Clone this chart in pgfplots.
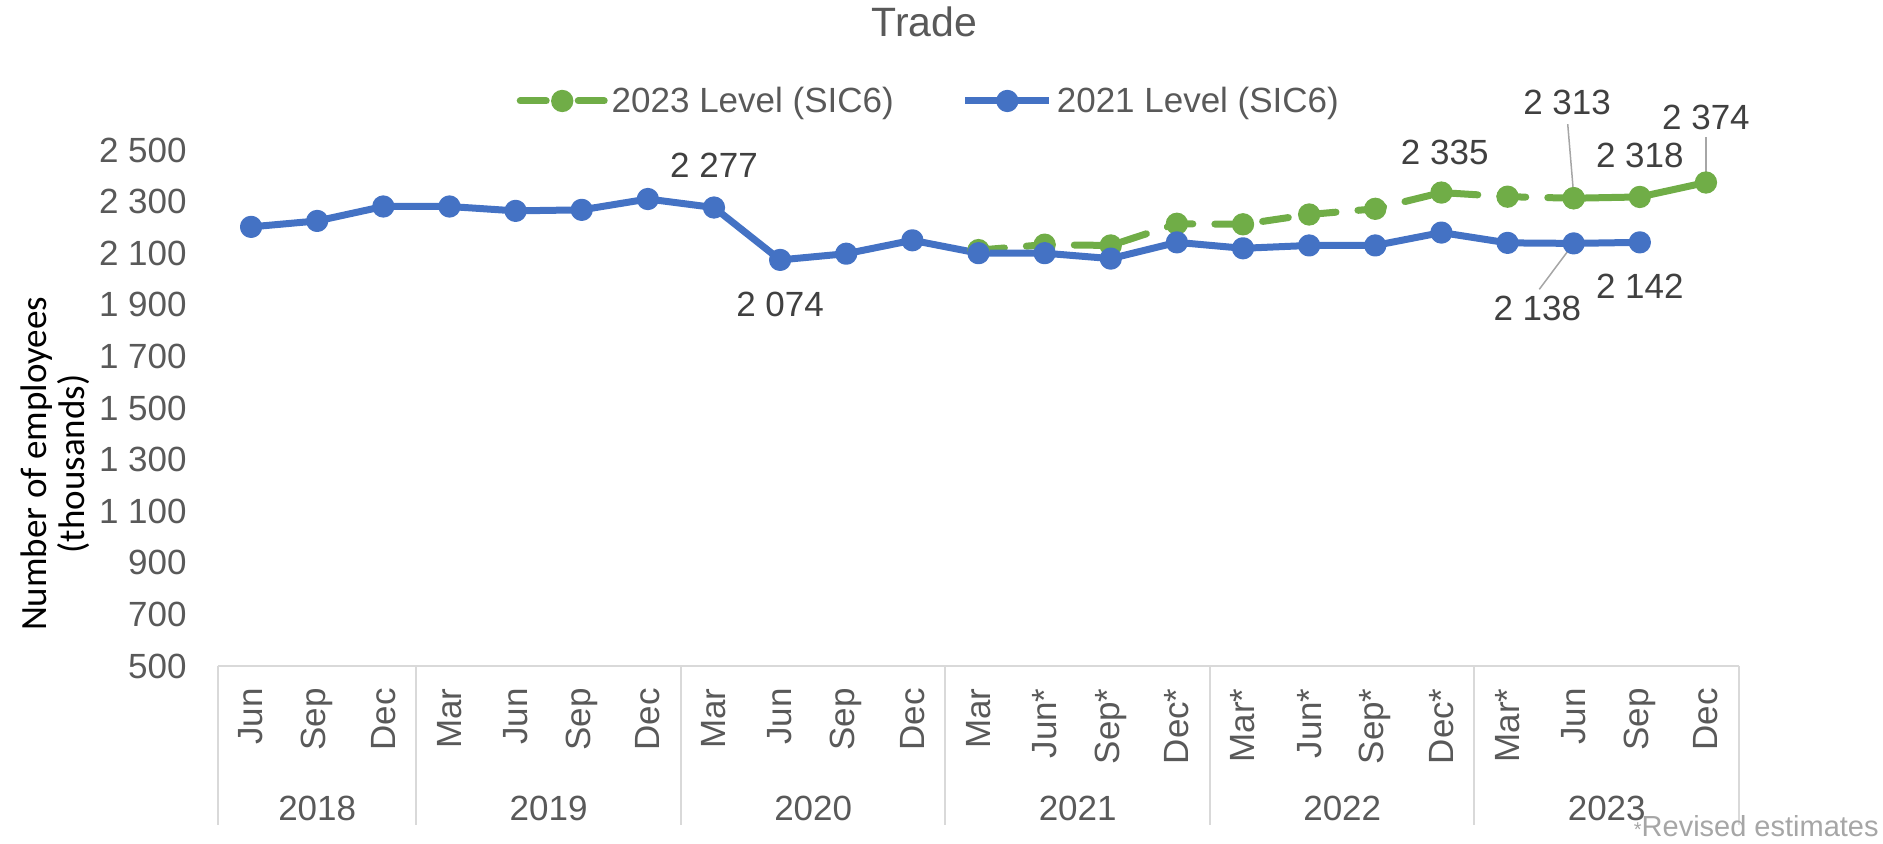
\documentclass[border=0pt]{standalone}
\usepackage{fontspec}
\setmainfont{Liberation Sans}
\newfontfamily\calib{Carlito}
\usepackage{pgfplots}
\pgfplotsset{compat=1.18}
\definecolor{tickgray}{HTML}{595959}
\definecolor{labgray}{HTML}{404040}
\definecolor{axgray}{HTML}{D9D9D9}
\definecolor{notegray}{HTML}{A6A6A6}
\definecolor{blueline}{HTML}{4472C4}
\definecolor{greenline}{HTML}{70AD47}
\newcommand{\fs}{\fontsize{17.5}{21}\selectfont}
\pgfplotsset{greenleg/.style={legend image code/.code={\draw[mark repeat=2,mark phase=2,##1, dash pattern=on 13pt off 16pt] plot coordinates {(0pt,0pt) (21pt,0pt) (42pt,0pt)};}}}
\begin{document}
\begin{tikzpicture}
\begin{axis}[
  at={(0pt,0pt)}, anchor=south west,
  scale only axis, width=760.5pt, height=258pt,
  xmin=-0.5, xmax=22.5, ymin=500, ymax=2500,
  clip=false,
  axis line style={draw=none},
  tick style={draw=none},
  major tick length=0pt,
  xtick={0,...,22},
  xticklabels={Jun,Sep,Dec,Mar,Jun,Sep,Dec,Mar,Jun,Sep,Dec,Mar,Jun*,Sep*,Dec*,Mar*,Jun*,Sep*,Dec*,Mar*,Jun,Sep,Dec},
  xticklabel style={rotate=90, anchor=east, inner sep=0pt, font=\fs, text=tickgray},
  xticklabel shift=11pt,
  ytick={500,700,...,2500},
  yticklabels={500,700,900,1 100,1 300,1 500,1 700,1 900,2 100,2 300,2 500},
  yticklabel style={inner sep=0pt, font=\fs, text=tickgray},
  yticklabel shift=15.5pt,
  legend style={at={(0.468,1.095)}, anchor=center, draw=none, fill=none,
    font=\fs, text=tickgray, legend columns=2,
    /tikz/every even column/.append style={column sep=32pt}},
  legend image code/.code={\draw[mark repeat=2,mark phase=2,#1] plot coordinates {(0pt,0pt) (21pt,0pt) (42pt,0pt)};},
]
% 2023 Level (SIC6), dashed part
\addplot[greenline, line width=3.5pt, line cap=round, dash pattern=on 13pt off 11pt,
  mark=*, mark size=3.8pt, mark options={solid, fill=greenline, draw=greenline}, greenleg]
  coordinates {(11,2112) (12,2133) (13,2130) (14,2214) (15,2212) (16,2250) (17,2272) (18,2335) (19,2319) (20,2313)};
\addlegendentry{2023 Level (SIC6)}
% 2023 Level (SIC6), solid part
\addplot[greenline, line width=3.5pt, line cap=round,
  mark=*, mark size=3.8pt, mark options={solid, fill=greenline, draw=greenline}, forget plot]
  coordinates {(20,2313) (21,2318) (22,2374)};
% 2021 Level (SIC6)
\addplot[blueline, line width=3.5pt, line join=round,
  mark=*, mark size=3.8pt, mark options={solid, fill=blueline, draw=blueline}]
  coordinates {(0,2202) (1,2225) (2,2281) (3,2281) (4,2264) (5,2268) (6,2310) (7,2277) (8,2074) (9,2098) (10,2150) (11,2100) (12,2100) (13,2079) (14,2142) (15,2119) (16,2130) (17,2130) (18,2180) (19,2140) (20,2138) (21,2142)};
\addlegendentry{2021 Level (SIC6)}

% category axis line and separators
\draw[axgray, line width=1pt] (axis cs:-0.5,500) -- (axis cs:22.5,500);
\draw[axgray, line width=1pt] (axis cs:-0.5,500) -- ([yshift=-79.5pt]axis cs:-0.5,500);
\draw[axgray, line width=1pt] (axis cs:2.5,500) -- ([yshift=-79.5pt]axis cs:2.5,500);
\draw[axgray, line width=1pt] (axis cs:6.5,500) -- ([yshift=-79.5pt]axis cs:6.5,500);
\draw[axgray, line width=1pt] (axis cs:10.5,500) -- ([yshift=-79.5pt]axis cs:10.5,500);
\draw[axgray, line width=1pt] (axis cs:14.5,500) -- ([yshift=-79.5pt]axis cs:14.5,500);
\draw[axgray, line width=1pt] (axis cs:18.5,500) -- ([yshift=-79.5pt]axis cs:18.5,500);
\draw[axgray, line width=1pt] (axis cs:22.5,500) -- ([yshift=-79.5pt]axis cs:22.5,500);

% year labels
\node[font=\fs, text=tickgray] at ([yshift=-71pt]axis cs:1,500) {2018};
\node[font=\fs, text=tickgray] at ([yshift=-71pt]axis cs:4.5,500) {2019};
\node[font=\fs, text=tickgray] at ([yshift=-71pt]axis cs:8.5,500) {2020};
\node[font=\fs, text=tickgray] at ([yshift=-71pt]axis cs:12.5,500) {2021};
\node[font=\fs, text=tickgray] at ([yshift=-71pt]axis cs:16.5,500) {2022};
\node[font=\fs, text=tickgray] at ([yshift=-71pt]axis cs:20.5,500) {2023};

% data labels
\node[font=\fs, text=labgray] at (axis cs:7,2441) {2 277};
\node[font=\fs, text=labgray] at (axis cs:8,1900) {2 074};
\node[font=\fs, text=labgray] at (axis cs:18.05,2489) {2 335};
\node[font=\fs, text=labgray] at (axis cs:19.9,2685) {2 313};
\node[font=\fs, text=labgray] at (axis cs:21,2480) {2 318};
\node[font=\fs, text=labgray] at (axis cs:22,2625) {2 374};
\node[font=\fs, text=labgray] at (axis cs:19.45,1885) {2 138};
\node[font=\fs, text=labgray] at (axis cs:21,1973) {2 142};
\draw[notegray, line width=0.75pt] (axis cs:19.91,2600) -- (axis cs:20,2325);
\draw[notegray, line width=0.75pt] (axis cs:22,2550) -- (axis cs:22,2395);
\draw[notegray, line width=0.75pt] (axis cs:19.48,1960) -- (axis cs:19.97,2128);

% title, axis title, note
\node[font=\fontsize{20.5}{24}\selectfont, text=tickgray] at ([yshift=64pt]rel axis cs:0.4645,1) {Trade};
\node[rotate=90, align=center, font=\calib\fontsize{18.5}{19}\selectfont, text=black]
  at ([xshift=-81.5pt, yshift=101pt]axis cs:-0.5,500) {Number of employees\\(thousands)};
\node[anchor=east, inner sep=0pt, font=\fontsize{14.5}{17}\selectfont, text=notegray]
  at ([xshift=830.5pt, yshift=-80pt]axis cs:-0.5,500) {{\fontsize{10}{12}\selectfont *}Revised estimates};
\end{axis}
\pgfresetboundingbox
\useasboundingbox (-109pt,-89pt) rectangle (832.5pt,333pt);
\end{tikzpicture}
\end{document}
